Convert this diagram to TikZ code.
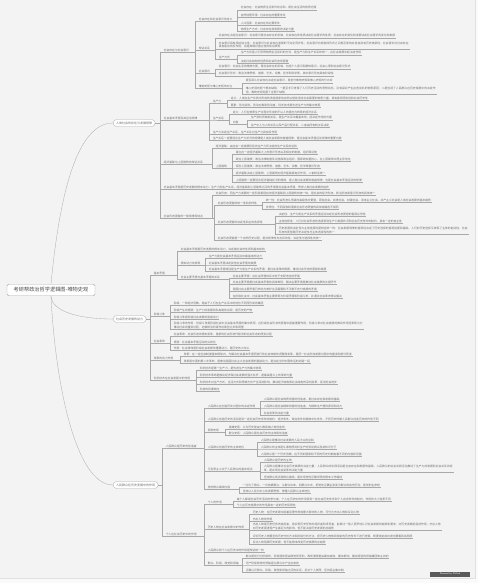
\documentclass[tikz,border=0pt]{standalone}
\usepackage{fontspec}
\newfontfamily\cjk{Noto Sans CJK SC}
\XeTeXlinebreaklocale "zh"
\XeTeXlinebreakskip = 0pt plus 1pt
\definecolor{linegray}{HTML}{A9A9A9}
\definecolor{txtgray}{HTML}{6E6E6E}
\definecolor{bgpage}{HTML}{F3F3F3}
\tikzset{
  leaf/.style={anchor=south west, inner xsep=0.6pt, inner ysep=0.5pt, align=left,
    text=txtgray, font=\cjk\fontsize{2.8}{3.3}\selectfont},
  conn/.style={draw=linegray, line width=0.3pt},
  pill/.style={anchor=west, draw=linegray, fill=white, rounded corners=3.5pt, line width=0.3pt,
    minimum height=7pt, inner xsep=3pt, inner ysep=0.5pt, text=txtgray, font=\cjk\fontsize{3}{3.5}\selectfont},
  rootbox/.style={draw=gray!70, fill=white, rounded corners=1.5pt, line width=0.4pt,
    minimum width=88pt, minimum height=10pt, text=black!70, font=\cjk\fontsize{5.2}{6}\selectfont}
}
\begin{document}
\begin{tikzpicture}[x=1pt, y=-1pt]
  \useasboundingbox (0,0) rectangle (478,583);
  \fill[white!60!bgpage] (0,0) rectangle (478,583);
  \fill[bgpage, draw=black!12, line width=0.3pt] (-1,-1) rectangle (475,578);

  % root and main branches
  \node[rootbox] (root) at (51,290) {考研帮政治哲学逻辑图-唯物史观};
  \node[pill] (soc) at (113,123) {人类社会的存在与发展规律};
  \node[pill] (dyn) at (113,319) {社会历史发展的动力};
  \node[pill] (mass) at (113,485) {人民群众在历史发展中的作用};
  \draw[conn] (root.north) .. controls (60,190) and (78,123) .. (soc.west);
  \draw[conn] (root.south) .. controls (52,312) and (80,319) .. (dyn.west);
  \draw[conn] (root.south) .. controls (55,380) and (75,485) .. (mass.west);

  % first branch
  \node[leaf] (a1) at (163,52) {社会存在与社会意识};
  \node[leaf] (a1a) at (198,21) {社会存在和社会意识的含义};
  \node[leaf] (a1a1) at (240,10) {社会存在：社会物质生活条件的总和，是社会生活的物质方面};
  \node[leaf] (a1a2) at (240,17) {自然地理环境：社会存在的重要条件};
  \node[leaf] (a1a3) at (240,25) {人口因素：社会存在的必要条件};
  \node[leaf] (a1a4) at (240,31) {物质生产方式：社会存在和发展的决定力量};
  \node[leaf] (a1b) at (198,50) {辩证关系};
  \node[leaf] (a1b1) at (218,38) {社会存在决定社会意识：社会意识是社会存在的反映，社会存在的性质决定社会意识的性质，社会存在的变化和发展决定社会意识的变化和发展};
  \node[leaf, text width=190pt] (a1b2) at (218,49) {社会意识具有相对独立性：社会意识与社会存在发展的不完全同步性；社会意识内部各种形式之间相互影响并各自具有历史继承性；社会意识对社会存在具有能动的反作用，这是其相对独立性的突出表现};
  \node[leaf] (a1b3) at (218,59) {生产方式};
  \node[leaf] (a1b3a) at (240,55) {生产方式是人们获得物质生活资料的方式，是生产力和生产关系的统一，在社会发展中起决定作用};
  \node[leaf] (a1b3b) at (240,63) {决定社会结构的性质和社会形态的更替};
  \node[leaf] (a1c) at (198,73) {社会意识};
  \node[leaf] (a1c1) at (218,69) {社会意识：社会生活的精神方面，是社会存在的反映，包括个人意识和群体意识、社会心理和社会意识形式};
  \node[leaf] (a1c2) at (218,76) {社会意识形式：政治法律思想、道德、艺术、宗教、哲学和科学等，其中意识形态具有阶级性};
  \node[leaf] (a1d) at (198,88) {唯物史观与唯心史观的对立};
  \node[leaf] (a1d1) at (245,83) {是否承认社会存在决定社会意识，是划分唯物史观和唯心史观的分水岭};
  \node[leaf, text width=190pt] (a1d2) at (245,94) {唯心史观的两个根本缺陷：一是至多只考察了人们历史活动的思想动机，没有探究产生这些动机的物质原因；二是忽视了人民群众在历史发展中的决定作用。唯物史观克服了这两个缺陷};

  \node[leaf] (a2) at (163,120) {社会基本矛盾及其运动规律};
  \node[leaf] (a2a) at (212,103) {生产力};
  \node[leaf] (a2a1) at (230,100) {定义：人类在生产实践中形成的改造和影响自然以使其适合社会需要的物质力量，具有客观现实性和社会历史性};
  \node[leaf] (a2a2) at (230,107) {要素：劳动资料、劳动对象和劳动者，科学技术是先进生产力的集中体现};
  \node[leaf] (a2b) at (212,120) {生产关系};
  \node[leaf] (a2b1) at (232,114) {定义：人们在物质生产过程中形成的不以人的意志为转移的经济关系};
  \node[leaf] (a2b2) at (232,124) {内容};
  \node[leaf] (a2b2a) at (250,120) {生产资料所有制关系，是生产关系中最基本的、起决定作用的方面};
  \node[leaf] (a2b2b) at (250,127) {生产中人与人的关系以及产品分配关系，二者由所有制关系决定};
  \node[leaf] (a2c) at (212,134) {生产力决定生产关系，生产关系对生产力具有反作用};
  \node[leaf] (a2d) at (212,140) {生产关系一定要适合生产力状况的规律是人类社会发展的普遍规律，是社会基本矛盾运动规律的重要内容};

  \node[leaf] (a3) at (163,164) {经济基础与上层建筑的辩证关系};
  \node[leaf] (a3a) at (215,148) {经济基础：由社会一定发展阶段的生产力所决定的生产关系的总和};
  \node[leaf] (a3b) at (215,168) {上层建筑};
  \node[leaf] (a3b1) at (235,154) {建立在一定经济基础之上的意识形态以及相应的制度、组织和设施};
  \node[leaf] (a3b2) at (235,161) {政治上层建筑：政治法律制度及设施和政治组织，国家政权是核心，在上层建筑中居主导地位};
  \node[leaf] (a3b3) at (235,168) {观念上层建筑：政治法律思想、道德、艺术、宗教、哲学等意识形态};
  \node[leaf] (a3b4) at (235,175) {经济基础决定上层建筑，上层建筑对经济基础具有反作用，二者辩证统一};
  \node[leaf] (a3b5) at (235,182) {上层建筑一定要适合经济基础状况的规律，是人类社会发展的普遍规律，也是社会基本矛盾运动的规律};

  \node[leaf] (a4) at (163,189) {社会基本矛盾是历史发展的根本动力：生产力和生产关系、经济基础和上层建筑之间的矛盾是社会基本矛盾，贯穿人类社会发展的始终};

  \node[leaf] (a5) at (163,218) {社会形态更替的一般规律及特点};
  \node[leaf] (a5a) at (215,195) {社会形态：同生产力发展的一定阶段相适应的经济基础和上层建筑的统一体，是社会的经济形态、政治形态和意识形态的具体统一};
  \node[leaf] (a5b) at (217,205) {社会形态更替的统一性和多样性};
  \node[leaf] (a5b1) at (265,202) {统一性：社会形态从低级向高级依次更替，原始社会、奴隶社会、封建社会、资本主义社会、共产主义社会是人类社会发展的基本趋势};
  \node[leaf] (a5b2) at (265,209) {多样性：不同民族和国家社会形态更替的具体道路各不相同};
  \node[leaf] (a5c) at (217,224) {社会形态更替的决定性和主体选择性};
  \node[leaf] (a5c1) at (278,216) {决定性：生产力和生产关系的矛盾运动决定社会形态更替的客观必然性};
  \node[leaf] (a5c2) at (278,223) {主体选择性：人们对社会形态的选择受到生产力发展状况和社会历史条件的制约，具有一定的自主性};
  \node[leaf, text width=189pt] (a5c3) at (278,234) {历史发展的决定性与主体选择性是辩证统一的：社会发展规律的客观性决定了历史选择的客观前提和基础，人们的历史选择又体现了主体的能动性，社会形态的更替是历史决定性与主体选择性的统一};
  \node[leaf] (a5d) at (217,240) {社会形态更替是一个自然历史过程，是合规律性与合目的性、决定性与选择性的统一};

  % second branch
  \node[leaf] (b1) at (153,275) {基本矛盾};
  \node[leaf] (b1a) at (180,251) {社会基本矛盾是历史发展的根本动力，决定着社会的性质和基本结构};
  \node[leaf] (b1b) at (180,265) {根本动力的表现};
  \node[leaf] (b1b1) at (208,258) {生产力是社会基本矛盾运动中最基本的动力};
  \node[leaf] (b1b2) at (208,265) {社会基本矛盾决定其他社会矛盾的发展};
  \node[leaf] (b1b3) at (208,271) {社会基本矛盾特别是生产力和生产关系的矛盾，是社会变革的根据，推动社会形态的更替和发展};
  \node[leaf] (b1c) at (180,279) {社会主要矛盾与基本矛盾的关系};
  \node[leaf] (b1c1) at (232,278) {社会主要矛盾：在社会矛盾体系中处于支配地位的矛盾};
  \node[leaf] (b1c2) at (232,284) {社会主要矛盾是社会基本矛盾的具体表现，解决主要矛盾是推动社会发展的关键环节};
  \node[leaf] (b1c3) at (232,291) {我国社会主要矛盾已转化为美好生活需要和不平衡不充分发展的矛盾};
  \node[leaf] (b1c4) at (232,298) {在阶级社会中，社会基本矛盾主要表现为阶级矛盾和阶级斗争，并通过社会革命得以解决};

  \node[leaf] (b2) at (153,316) {阶级斗争};
  \node[leaf] (b2a) at (173,305) {阶级：一种经济范畴，是由于人们在生产关系中的地位不同而形成的集团};
  \node[leaf] (b2b) at (173,312) {阶级产生的根源：生产力的发展和私有制的出现，是历史的产物};
  \node[leaf] (b2c) at (173,319) {阶级斗争是阶级社会发展的直接动力};
  \node[leaf, text width=189pt] (b2d) at (173,329) {阶级斗争的作用：阶级斗争是阶级社会中社会基本矛盾的集中表现，在阶级社会形态的更替中起着重要作用；阶级斗争对社会发展的推动作用还表现为它推动社会的量变过程，迫使统治阶级作出某些让步和调整};
  \node[leaf] (b3) at (153,343) {社会革命};
  \node[leaf] (b3a) at (173,336) {社会革命：社会形态的根本变革，是新的社会形态代替旧的社会形态的质变过程};
  \node[leaf] (b3b) at (173,344) {根源：社会基本矛盾运动的尖锐化};
  \node[leaf] (b3c) at (173,350) {作用：社会革命是阶级社会发展的重要动力，是历史的火车头};
  \node[leaf] (b4) at (153,360) {改革的动力作用};
  \node[leaf] (b4a) at (183,356) {改革：在一定社会制度基本框架内，为解决社会基本矛盾而进行的社会体制的调整和变革，是同一社会形态发展过程中的量变和部分质变};
  \node[leaf] (b4b) at (183,363) {改革是中国的第二次革命，是推动我国社会主义社会发展的直接动力，是决定当代中国命运的关键一招};
  \node[leaf] (b5) at (153,380) {科学技术在社会发展中的作用};
  \node[leaf] (b5a) at (199,370) {科学技术是第一生产力，是先进生产力的集中体现};
  \node[leaf] (b5b) at (199,377) {科学技术革命是推动经济和社会发展的强大杠杆，是最高意义上的革命力量};
  \node[leaf] (b5c) at (199,384) {科学技术对生产方式、生活方式和思维方式产生深刻影响，推动经济结构和社会结构的深刻变革，促进社会进步};
  \node[leaf] (b5d) at (199,391) {科技的双重效应};

  % third branch
  \node[leaf] (c1) at (165,448) {人民群众是历史的创造者};
  \node[leaf] (c1a) at (207,408) {人民群众在创造历史过程中的决定作用};
  \node[leaf] (c1a1) at (263,401) {人民群众是社会物质财富的创造者，是社会存在和发展的基础};
  \node[leaf] (c1a2) at (263,408) {人民群众是社会精神财富的创造者，为精神生产提供源泉和动力};
  \node[leaf] (c1a3) at (263,415) {社会变革的决定力量};
  \node[leaf] (c1b) at (207,421) {人民群众创造历史的活动受到一定社会历史条件的制约：经济条件、政治条件和精神文化条件，不同历史时期人民群众创造历史的作用不同};
  \node[leaf] (c1c) at (207,432) {两种史观};
  \node[leaf] (c1c1) at (228,429) {英雄史观：认为历史是由少数英雄人物创造的};
  \node[leaf] (c1c2) at (228,435) {群众史观：人民群众是社会历史的主体和创造者};
  \node[leaf] (c1d) at (207,449) {人民群众创造历史的主体地位};
  \node[leaf] (c1d1) at (260,442) {人民群众是推动社会发展的人民大众的总和};
  \node[leaf] (c1d2) at (260,449) {人民群众的主体是从事物质资料生产的劳动群众及其知识分子};
  \node[leaf] (c1d3) at (260,456) {人民群众是一个历史范畴，在不同的国家和不同的历史时期有着不同的内容和范围};
  \node[leaf] (c1e) at (207,471) {马克思主义关于人民群众的基本观点};
  \node[leaf] (c1e1) at (263,462) {人民群众是历史的主体};
  \node[leaf, text width=189pt] (c1e2) at (263,472) {人民群众是推动社会历史发展的决定力量：人民群众的实践活动是社会存在和发展的基础，人民群众的社会实践活动推动了生产力的发展和社会关系的变革，是实现社会变革的决定力量};
  \node[leaf] (c1e3) at (263,479) {坚持群众观点和群众路线，是实现党的正确领导的根本工作路线};
  \node[leaf] (c1f) at (207,489) {党的群众路线内容};
  \node[leaf] (c1f1) at (242,487) {一切为了群众，一切依靠群众，从群众中来，到群众中去，把党的正确主张变为群众的自觉行动，是党的生命线};
  \node[leaf] (c1f2) at (242,493) {坚持以人民为中心的发展思想，尊重人民群众主体地位};

  \node[leaf] (c2) at (165,536) {个人在社会历史中的作用};
  \node[leaf] (c2a) at (207,504) {个人的作用};
  \node[leaf] (c2a1) at (236,501) {每个人都是社会历史活动的参与者，个人在历史中的作用受到一定社会历史条件和个人自身条件的制约，作用的大小性质不同};
  \node[leaf] (c2a2) at (236,507) {个人在历史发展中的作用具有一定的历史局限性};
  \node[leaf] (c2b) at (207,529) {历史人物在社会发展中的作用};
  \node[leaf] (c2b1) at (252,514) {历史人物：在历史发展中起着显著作用或重大影响的人物，可分为杰出人物和反动人物};
  \node[leaf] (c2b2) at (252,521) {杰出人物的作用};
  \node[leaf, text width=188pt] (c2b3) at (252,530) {杰出人物是历史任务的发起者，是实现历史任务的组织者和领导者，能够比一般人更早地认识社会发展的趋势和要求，对历史发展起促进作用；杰出人物对历史发展进程产生着巨大的影响，但不能决定历史发展的总趋势};
  \node[leaf] (c2b4) at (252,538) {评价历史人物要坚持历史分析方法和阶级分析方法，把历史人物放到特定的历史条件下进行考察，既要肯定其功绩也要看到其局限};
  \node[leaf] (c2b5) at (252,544) {反动人物阻碍历史发展，但不能根本改变历史发展的总趋势};
  \node[leaf] (c2c) at (207,552) {人民群众和个人在历史中的作用是辩证统一的};
  \node[leaf] (c2d) at (207,565) {群众、阶级、政党和领袖};
  \node[leaf] (c2d1) at (245,558) {群众是划分为阶级的，阶级通常是由政党领导的，政党通常是由最有威信、最有影响、最有经验的领袖集团来主持的};
  \node[leaf] (c2d2) at (245,565) {无产阶级政党的领袖是从群众中产生出来的};
  \node[leaf] (c2d3) at (245,572) {正确认识群众、阶级、政党和领袖之间的关系，反对个人崇拜，坚持民主集中制};

  \node[fill=black!65, text=white, font=\sffamily\fontsize{2.4}{2.8}\selectfont, minimum width=40pt,
    minimum height=5pt, inner sep=0.5pt] (mark) at (450,574) {Powered by XMind};

  % connectors
  \draw[conn] (soc.east) -| ([xshift=-3pt]a1.south west) -- (a1.south east);
  \draw[conn] (soc.east) -| ([xshift=-3pt]a2.south west) -- (a2.south east);
  \draw[conn] (soc.east) -| ([xshift=-3pt]a3.south west) -- (a3.south east);
  \draw[conn] (soc.east) -| ([xshift=-3pt]a4.south west) -- (a4.south east);
  \draw[conn] (soc.east) -| ([xshift=-3pt]a5.south west) -- (a5.south east);
  \draw[conn] (a1.south east) -| ([xshift=-3pt]a1a.south west) -- (a1a.south east);
  \draw[conn] (a1.south east) -| ([xshift=-3pt]a1b.south west) -- (a1b.south east);
  \draw[conn] (a1.south east) -| ([xshift=-3pt]a1c.south west) -- (a1c.south east);
  \draw[conn] (a1.south east) -| ([xshift=-3pt]a1d.south west) -- (a1d.south east);
  \draw[conn] (a1a.south east) -| ([xshift=-3pt]a1a1.south west) -- (a1a1.south east);
  \draw[conn] (a1a.south east) -| ([xshift=-3pt]a1a2.south west) -- (a1a2.south east);
  \draw[conn] (a1a.south east) -| ([xshift=-3pt]a1a3.south west) -- (a1a3.south east);
  \draw[conn] (a1a.south east) -| ([xshift=-3pt]a1a4.south west) -- (a1a4.south east);
  \draw[conn] (a1b.south east) -| ([xshift=-3pt]a1b1.south west) -- (a1b1.south east);
  \draw[conn] (a1b.south east) -| ([xshift=-3pt]a1b2.south west) -- (a1b2.south east);
  \draw[conn] (a1b.south east) -| ([xshift=-3pt]a1b3.south west) -- (a1b3.south east);
  \draw[conn] (a1b3.south east) -| ([xshift=-3pt]a1b3a.south west) -- (a1b3a.south east);
  \draw[conn] (a1b3.south east) -| ([xshift=-3pt]a1b3b.south west) -- (a1b3b.south east);
  \draw[conn] (a1c.south east) -| ([xshift=-3pt]a1c1.south west) -- (a1c1.south east);
  \draw[conn] (a1c.south east) -| ([xshift=-3pt]a1c2.south west) -- (a1c2.south east);
  \draw[conn] (a1d.south east) -| ([xshift=-3pt]a1d1.south west) -- (a1d1.south east);
  \draw[conn] (a1d.south east) -| ([xshift=-3pt]a1d2.south west) -- (a1d2.south east);
  \draw[conn] (a2.south east) -| ([xshift=-3pt]a2a.south west) -- (a2a.south east);
  \draw[conn] (a2.south east) -| ([xshift=-3pt]a2b.south west) -- (a2b.south east);
  \draw[conn] (a2.south east) -| ([xshift=-3pt]a2c.south west) -- (a2c.south east);
  \draw[conn] (a2.south east) -| ([xshift=-3pt]a2d.south west) -- (a2d.south east);
  \draw[conn] (a2a.south east) -| ([xshift=-3pt]a2a1.south west) -- (a2a1.south east);
  \draw[conn] (a2a.south east) -| ([xshift=-3pt]a2a2.south west) -- (a2a2.south east);
  \draw[conn] (a2b.south east) -| ([xshift=-3pt]a2b1.south west) -- (a2b1.south east);
  \draw[conn] (a2b.south east) -| ([xshift=-3pt]a2b2.south west) -- (a2b2.south east);
  \draw[conn] (a2b2.south east) -| ([xshift=-3pt]a2b2a.south west) -- (a2b2a.south east);
  \draw[conn] (a2b2.south east) -| ([xshift=-3pt]a2b2b.south west) -- (a2b2b.south east);
  \draw[conn] (a3.south east) -| ([xshift=-3pt]a3a.south west) -- (a3a.south east);
  \draw[conn] (a3.south east) -| ([xshift=-3pt]a3b.south west) -- (a3b.south east);
  \draw[conn] (a3b.south east) -| ([xshift=-3pt]a3b1.south west) -- (a3b1.south east);
  \draw[conn] (a3b.south east) -| ([xshift=-3pt]a3b2.south west) -- (a3b2.south east);
  \draw[conn] (a3b.south east) -| ([xshift=-3pt]a3b3.south west) -- (a3b3.south east);
  \draw[conn] (a3b.south east) -| ([xshift=-3pt]a3b4.south west) -- (a3b4.south east);
  \draw[conn] (a3b.south east) -| ([xshift=-3pt]a3b5.south west) -- (a3b5.south east);
  \draw[conn] (a5.south east) -| ([xshift=-3pt]a5a.south west) -- (a5a.south east);
  \draw[conn] (a5.south east) -| ([xshift=-3pt]a5b.south west) -- (a5b.south east);
  \draw[conn] (a5.south east) -| ([xshift=-3pt]a5c.south west) -- (a5c.south east);
  \draw[conn] (a5.south east) -| ([xshift=-3pt]a5d.south west) -- (a5d.south east);
  \draw[conn] (a5b.south east) -| ([xshift=-3pt]a5b1.south west) -- (a5b1.south east);
  \draw[conn] (a5b.south east) -| ([xshift=-3pt]a5b2.south west) -- (a5b2.south east);
  \draw[conn] (a5c.south east) -| ([xshift=-3pt]a5c1.south west) -- (a5c1.south east);
  \draw[conn] (a5c.south east) -| ([xshift=-3pt]a5c2.south west) -- (a5c2.south east);
  \draw[conn] (a5c.south east) -| ([xshift=-3pt]a5c3.south west) -- (a5c3.south east);

  \draw[conn] (dyn.east) -| ([xshift=-3pt]b1.south west) -- (b1.south east);
  \draw[conn] (dyn.east) -| ([xshift=-3pt]b2.south west) -- (b2.south east);
  \draw[conn] (dyn.east) -| ([xshift=-3pt]b3.south west) -- (b3.south east);
  \draw[conn] (dyn.east) -| ([xshift=-3pt]b4.south west) -- (b4.south east);
  \draw[conn] (dyn.east) -| ([xshift=-3pt]b5.south west) -- (b5.south east);
  \draw[conn] (b1.south east) -| ([xshift=-3pt]b1a.south west) -- (b1a.south east);
  \draw[conn] (b1.south east) -| ([xshift=-3pt]b1b.south west) -- (b1b.south east);
  \draw[conn] (b1.south east) -| ([xshift=-3pt]b1c.south west) -- (b1c.south east);
  \draw[conn] (b1b.south east) -| ([xshift=-3pt]b1b1.south west) -- (b1b1.south east);
  \draw[conn] (b1b.south east) -| ([xshift=-3pt]b1b2.south west) -- (b1b2.south east);
  \draw[conn] (b1b.south east) -| ([xshift=-3pt]b1b3.south west) -- (b1b3.south east);
  \draw[conn] (b1c.south east) -| ([xshift=-3pt]b1c1.south west) -- (b1c1.south east);
  \draw[conn] (b1c.south east) -| ([xshift=-3pt]b1c2.south west) -- (b1c2.south east);
  \draw[conn] (b1c.south east) -| ([xshift=-3pt]b1c3.south west) -- (b1c3.south east);
  \draw[conn] (b1c.south east) -| ([xshift=-3pt]b1c4.south west) -- (b1c4.south east);
  \draw[conn] (b2.south east) -| ([xshift=-3pt]b2a.south west) -- (b2a.south east);
  \draw[conn] (b2.south east) -| ([xshift=-3pt]b2b.south west) -- (b2b.south east);
  \draw[conn] (b2.south east) -| ([xshift=-3pt]b2c.south west) -- (b2c.south east);
  \draw[conn] (b2.south east) -| ([xshift=-3pt]b2d.south west) -- (b2d.south east);
  \draw[conn] (b3.south east) -| ([xshift=-3pt]b3a.south west) -- (b3a.south east);
  \draw[conn] (b3.south east) -| ([xshift=-3pt]b3b.south west) -- (b3b.south east);
  \draw[conn] (b3.south east) -| ([xshift=-3pt]b3c.south west) -- (b3c.south east);
  \draw[conn] (b4.south east) -| ([xshift=-3pt]b4a.south west) -- (b4a.south east);
  \draw[conn] (b4.south east) -| ([xshift=-3pt]b4b.south west) -- (b4b.south east);
  \draw[conn] (b5.south east) -| ([xshift=-3pt]b5a.south west) -- (b5a.south east);
  \draw[conn] (b5.south east) -| ([xshift=-3pt]b5b.south west) -- (b5b.south east);
  \draw[conn] (b5.south east) -| ([xshift=-3pt]b5c.south west) -- (b5c.south east);
  \draw[conn] (b5.south east) -| ([xshift=-3pt]b5d.south west) -- (b5d.south east);

  \draw[conn] (mass.east) -| ([xshift=-3pt]c1.south west) -- (c1.south east);
  \draw[conn] (mass.east) -| ([xshift=-3pt]c2.south west) -- (c2.south east);
  \draw[conn] (c1.south east) -| ([xshift=-3pt]c1a.south west) -- (c1a.south east);
  \draw[conn] (c1.south east) -| ([xshift=-3pt]c1b.south west) -- (c1b.south east);
  \draw[conn] (c1.south east) -| ([xshift=-3pt]c1c.south west) -- (c1c.south east);
  \draw[conn] (c1.south east) -| ([xshift=-3pt]c1d.south west) -- (c1d.south east);
  \draw[conn] (c1.south east) -| ([xshift=-3pt]c1e.south west) -- (c1e.south east);
  \draw[conn] (c1.south east) -| ([xshift=-3pt]c1f.south west) -- (c1f.south east);
  \draw[conn] (c1a.south east) -| ([xshift=-3pt]c1a1.south west) -- (c1a1.south east);
  \draw[conn] (c1a.south east) -| ([xshift=-3pt]c1a2.south west) -- (c1a2.south east);
  \draw[conn] (c1a.south east) -| ([xshift=-3pt]c1a3.south west) -- (c1a3.south east);
  \draw[conn] (c1c.south east) -| ([xshift=-3pt]c1c1.south west) -- (c1c1.south east);
  \draw[conn] (c1c.south east) -| ([xshift=-3pt]c1c2.south west) -- (c1c2.south east);
  \draw[conn] (c1d.south east) -| ([xshift=-3pt]c1d1.south west) -- (c1d1.south east);
  \draw[conn] (c1d.south east) -| ([xshift=-3pt]c1d2.south west) -- (c1d2.south east);
  \draw[conn] (c1d.south east) -| ([xshift=-3pt]c1d3.south west) -- (c1d3.south east);
  \draw[conn] (c1e.south east) -| ([xshift=-3pt]c1e1.south west) -- (c1e1.south east);
  \draw[conn] (c1e.south east) -| ([xshift=-3pt]c1e2.south west) -- (c1e2.south east);
  \draw[conn] (c1e.south east) -| ([xshift=-3pt]c1e3.south west) -- (c1e3.south east);
  \draw[conn] (c1f.south east) -| ([xshift=-3pt]c1f1.south west) -- (c1f1.south east);
  \draw[conn] (c1f.south east) -| ([xshift=-3pt]c1f2.south west) -- (c1f2.south east);
  \draw[conn] (c2.south east) -| ([xshift=-3pt]c2a.south west) -- (c2a.south east);
  \draw[conn] (c2.south east) -| ([xshift=-3pt]c2b.south west) -- (c2b.south east);
  \draw[conn] (c2.south east) -| ([xshift=-3pt]c2c.south west) -- (c2c.south east);
  \draw[conn] (c2.south east) -| ([xshift=-3pt]c2d.south west) -- (c2d.south east);
  \draw[conn] (c2a.south east) -| ([xshift=-3pt]c2a1.south west) -- (c2a1.south east);
  \draw[conn] (c2a.south east) -| ([xshift=-3pt]c2a2.south west) -- (c2a2.south east);
  \draw[conn] (c2b.south east) -| ([xshift=-3pt]c2b1.south west) -- (c2b1.south east);
  \draw[conn] (c2b.south east) -| ([xshift=-3pt]c2b2.south west) -- (c2b2.south east);
  \draw[conn] (c2b.south east) -| ([xshift=-3pt]c2b3.south west) -- (c2b3.south east);
  \draw[conn] (c2b.south east) -| ([xshift=-3pt]c2b4.south west) -- (c2b4.south east);
  \draw[conn] (c2b.south east) -| ([xshift=-3pt]c2b5.south west) -- (c2b5.south east);
  \draw[conn] (c2d.south east) -| ([xshift=-3pt]c2d1.south west) -- (c2d1.south east);
  \draw[conn] (c2d.south east) -| ([xshift=-3pt]c2d2.south west) -- (c2d2.south east);
  \draw[conn] (c2d.south east) -| ([xshift=-3pt]c2d3.south west) -- (c2d3.south east);
\end{tikzpicture}
\end{document}
